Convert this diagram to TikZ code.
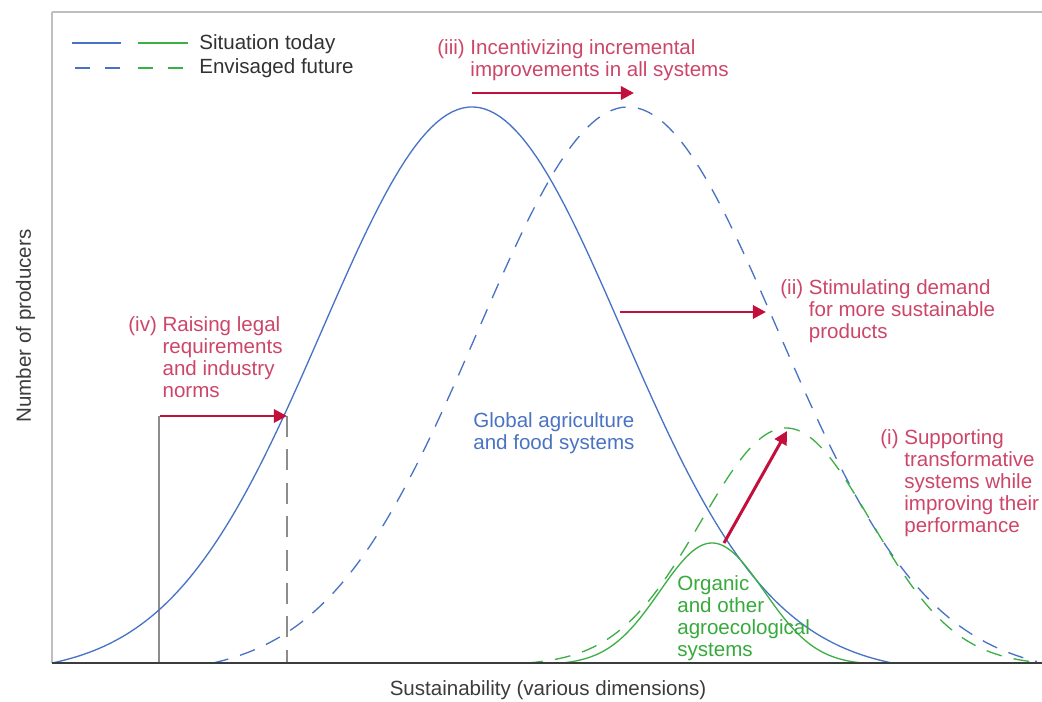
\documentclass[tikz,border=0pt]{standalone}
\usepackage{fontspec}
\setmainfont{Liberation Sans}
\usetikzlibrary{arrows.meta}
\definecolor{bline}{RGB}{72,115,196}
\definecolor{gline}{RGB}{60,175,70}
\definecolor{redarrow}{RGB}{195,15,60}
\definecolor{redtext}{RGB}{205,70,105}
\definecolor{bluetext}{RGB}{75,115,195}
\definecolor{greentext}{RGB}{55,170,60}
\definecolor{darktext}{RGB}{50,50,50}
\definecolor{framegray}{RGB}{190,190,190}
\definecolor{vgray}{RGB}{140,140,140}
\definecolor{axisgray}{RGB}{60,60,60}
\begin{document}
\begin{tikzpicture}[x=0.02cm,y=-0.02cm,
  declare function={bell(\p,\m,\s,\h,\w)=\h*max(0,(exp(-0.5*((\p-\m)/\s)*((\p-\m)/\s))-exp(-0.5*(\w/\s)*(\w/\s)))/(1-exp(-0.5*(\w/\s)*(\w/\s))));},
  lbl/.style={inner sep=0pt, anchor=base west, font=\fontsize{11.7}{12.5}\selectfont},
  redlbl/.style={lbl, text=redtext},
  bluelbl/.style={lbl, text=bluetext},
  greenlbl/.style={lbl, text=greentext},
  leglbl/.style={lbl, text=darktext},
  axislbl/.style={inner sep=0pt, anchor=base, text=axisgray, font=\fontsize{11.7}{12.5}\selectfont},
  bsolid/.style={draw=bline, line width=0.75pt},
  bdashed/.style={draw=bline, line width=0.75pt, dash pattern=on 9pt off 7pt},
  gsolid/.style={draw=gline, line width=0.75pt},
  gdashed/.style={draw=gline, line width=0.75pt, dash pattern=on 9pt off 7pt},
  legdash/.style={line width=0.9pt, dash pattern=on 8.54pt off 8.54pt},
  push/.style={draw=redarrow, line width=1.7pt, -{Triangle[length=7.5pt,width=7.5pt]}},
  frameline/.style={draw=framegray, line width=0.9pt},
  axisline/.style={draw=axisgray, line width=0.8pt},
  guide/.style={draw=vgray, line width=0.6pt},
  guidedash/.style={draw=vgray, line width=0.6pt, dash pattern=on 12pt off 7pt}
]
\useasboundingbox[fill=white] (0,0) rectangle (1042,702);

% frame and axis
\draw[frameline] (52,12) -- (1042,12);
\draw[frameline] (52,12) -- (52,663);

% guide lines
\coordinate (g1top) at (159,416);
\coordinate (g1bot) at (159,663);
\coordinate (g2top) at (287,416);
\coordinate (g2bot) at (287,663);
\draw[guide] (g1top) -- (g1bot);
\draw[guidedash] (g2top) -- (g2bot);

% curves
\draw[bsolid] plot[domain=52:890, samples=160] (\x,{663-bell(\x,472,150,556,420)});
\draw[bdashed] plot[domain=213:1037, samples=160] (\x,{663-bell(\x,628,150,556,415)});
\draw[gsolid] plot[domain=563:862, samples=120] (\x,{663-bell(\x,712,52,120,150)});
\draw[gdashed] plot[domain=527:1032, samples=160] (\x,{663-bell(\x,786,85,235,259)});

\draw[axisline] (52,663) -- (1042,663);

% legend
\coordinate (lb1a) at (72,43);  \coordinate (lb1b) at (121,43);
\coordinate (lg1a) at (138,43); \coordinate (lg1b) at (188,43);
\coordinate (lb2a) at (75,68);  \coordinate (lb2b) at (120,68);
\coordinate (lg2a) at (138,68); \coordinate (lg2b) at (183,68);
\draw[bline, line width=0.9pt] (lb1a) -- (lb1b);
\draw[gline, line width=0.9pt] (lg1a) -- (lg1b);
\draw[bline, legdash] (lb2a) -- (lb2b);
\draw[gline, legdash] (lg2a) -- (lg2b);
\node[leglbl] (leg1) at (199,50) {Situation today};
\node[leglbl] (leg2) at (199,74) {Envisaged future};

% arrows
\coordinate (a3s) at (472,93);  \coordinate (a3e) at (634,93);
\coordinate (a2s) at (620,312); \coordinate (a2e) at (766,312);
\coordinate (a4s) at (160,416); \coordinate (a4e) at (287,416);
\coordinate (a1s) at (724,543); \coordinate (a1e) at (787,431);
\draw[push] (a3s) -- (a3e);
\draw[push] (a2s) -- (a2e);
\draw[push] (a4s) -- (a4e);
\draw[push] (a1s) -- (a1e);

% labels
\node[redlbl] (t3) at (437,55) {\begin{tabular}[t]{@{}l@{\space}l@{}}(iii)&Incentivizing incremental\\ &improvements in all systems\end{tabular}};
\node[redlbl] (t2) at (780,295) {\begin{tabular}[t]{@{}l@{\space}l@{}}(ii)&Stimulating demand\\ &for more sustainable\\ &products\end{tabular}};
\node[redlbl] (t4) at (128,332) {\begin{tabular}[t]{@{}l@{\space}l@{}}(iv)&Raising legal\\ &requirements\\ &and industry\\ &norms\end{tabular}};
\node[redlbl] (t1) at (880,445) {\begin{tabular}[t]{@{}l@{\space}l@{}}(i)&Supporting\\ &transformative\\ &systems while\\ &improving their\\ &performance\end{tabular}};
\node[bluelbl] (tb) at (473,428) {\begin{tabular}[t]{@{}l@{}}Global agriculture\\and food systems\end{tabular}};
\node[greenlbl] (tg) at (677,591) {\begin{tabular}[t]{@{}l@{}}Organic\\and other\\agroecological\\systems\end{tabular}};

\node[axislbl] (xl) at (548,695) {Sustainability (various dimensions)};
\node[axislbl, rotate=90] (yl) at (31,326) {Number of producers};
\end{tikzpicture}
\end{document}
